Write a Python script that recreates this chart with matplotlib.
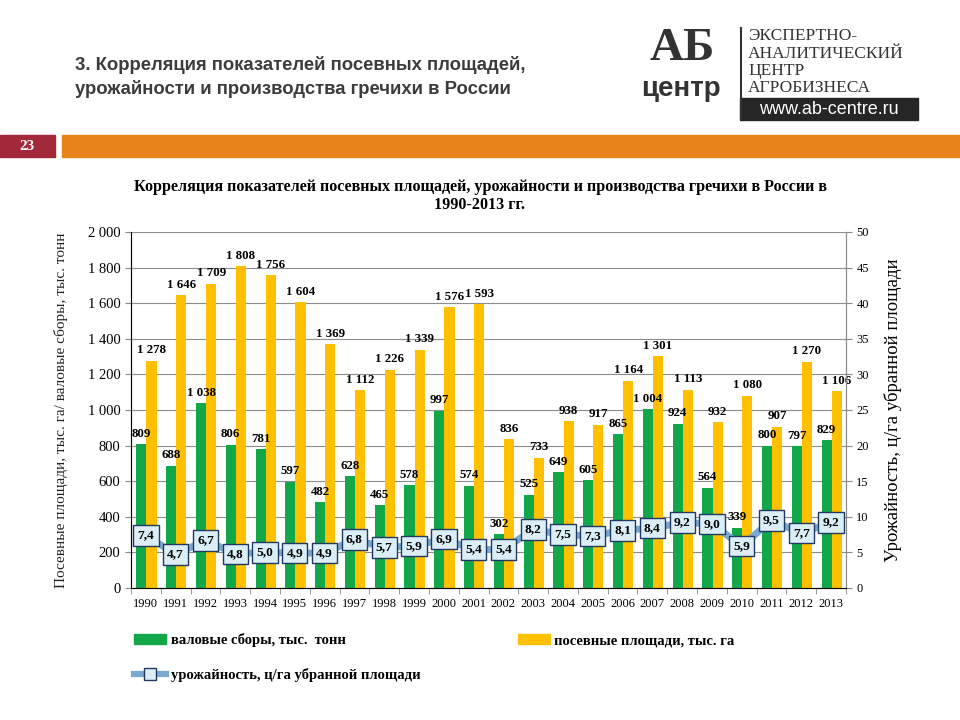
import matplotlib.pyplot as plt
import matplotlib.patches as mpatches
from matplotlib.lines import Line2D
import numpy as np

plt.rcParams['font.family'] = ['Liberation Serif', 'DejaVu Serif']

# Data
years = [str(y) for y in range(1990, 2014)]
harvest = [809, 688, 1038, 806, 781, 597, 482, 628, 465, 578, 997, 574,
           302, 525, 649, 605, 865, 1004, 924, 564, 339, 800, 797, 829]  # тыс. тонн
area = [1278, 1646, 1709, 1808, 1756, 1604, 1369, 1112, 1226, 1339, 1576, 1593,
        836, 733, 938, 917, 1164, 1301, 1113, 932, 1080, 907, 1270, 1106]  # тыс. га
yields = [7.4, 4.7, 6.7, 4.8, 5.0, 4.9, 4.9, 6.8, 5.7, 5.9, 6.9, 5.4,
          5.4, 8.2, 7.5, 7.3, 8.1, 8.4, 9.2, 9.0, 5.9, 9.5, 7.7, 9.2]  # ц/га

green = '#12a84a'
yellow = '#ffc000'
blue_line = '#7aa9cf'
box_fc = '#dbeef6'
box_ec = '#1f3864'


def fmt_thousands(v):
    return f'{v:,}'.replace(',', ' ')


fig = plt.figure(figsize=(9.6, 7.2), dpi=100)

# ---- slide header ----
sans = ['Liberation Sans Narrow', 'Liberation Sans']
fig.text(75 / 960, 1 - 65 / 720, '3. Корреляция показателей посевных площадей,',
         fontsize=13.3, fontweight='bold', color='#3c3c3c', family=sans, va='center')
fig.text(75 / 960, 1 - 89 / 720, 'урожайности и производства гречихи в России',
         fontsize=13.3, fontweight='bold', color='#3c3c3c', family=sans, va='center')

# logo
fig.text(682 / 960, 1 - 49 / 720, 'АБ', fontsize=34, fontweight='bold', color='#333333',
         family=['Liberation Serif'], ha='center', va='center')
fig.text(681 / 960, 1 - 89 / 720, 'центр', fontsize=20, fontweight='bold', color='#333333',
         family=sans, ha='center', va='center')
fig.add_artist(Line2D([741 / 960, 741 / 960], [1 - 28 / 720, 1 - 118 / 720],
                      color='#333333', lw=1.5))
for i, t in enumerate(['ЭКСПЕРТНО-', 'АНАЛИТИЧЕСКИЙ', 'ЦЕНТР', 'АГРОБИЗНЕСА']):
    fig.text(748 / 960, 1 - (36 + 17.5 * i) / 720, t, fontsize=12.5, color='#333333',
             family=['Liberation Serif'], va='center')
fig.add_artist(mpatches.Rectangle((740 / 960, 1 - 120 / 720), 178 / 960, 22 / 720,
                                  transform=fig.transFigure, color='#262626'))
fig.text(829 / 960, 1 - 109 / 720, 'www.ab-centre.ru', fontsize=13, color='white',
         family=sans, ha='center', va='center')

# number box and orange band
fig.add_artist(mpatches.Rectangle((0, 1 - 157 / 720), 55 / 960, 22 / 720,
                                  transform=fig.transFigure, color='#a3283a'))
fig.text(27 / 960, 1 - 146 / 720, '23', fontsize=11, fontweight='bold', color='white',
         ha='center', va='center')
fig.add_artist(mpatches.Rectangle((62 / 960, 1 - 157 / 720), 898 / 960, 22 / 720,
                                  transform=fig.transFigure, color='#e8821a'))

# ---- chart ----
ax = fig.add_axes([131 / 960, 1 - 588 / 720, 715 / 960, 356 / 720])
ax2 = ax.twinx()

fig.text(480 / 960, 1 - 187 / 720,
         'Корреляция показателей посевных площадей, урожайности и производства гречихи в России в',
         fontsize=11.6, fontweight='bold', ha='center', va='center')
fig.text(480 / 960, 1 - 205 / 720, '1990-2013 гг.', fontsize=11.6, fontweight='bold',
         ha='center', va='center')

x = np.arange(len(years))
w = 0.34
ax.bar(x - 0.15, harvest, w, color=green, zorder=2)
ax.bar(x + 0.19, area, w, color=yellow, zorder=2)

for xi, v in zip(x, harvest):
    ax.text(xi - 0.15, v + 25, fmt_thousands(v), ha='center', va='bottom',
            fontsize=9.3, fontweight='bold', zorder=5)
for xi, v in zip(x, area):
    ax.text(xi + 0.19, v + 25, fmt_thousands(v), ha='center', va='bottom',
            fontsize=9.3, fontweight='bold', zorder=5)

ax.set_xlim(-0.5, len(years) - 0.5)
ax.set_ylim(0, 2000)
ax.set_yticks(np.arange(0, 2001, 200))
ax.set_yticklabels([fmt_thousands(v) for v in range(0, 2001, 200)], fontsize=10.5)
ax.set_xticks(x)
ax.set_xticklabels(years, fontsize=9)
ax.set_xticks(np.arange(-0.5, len(years), 1), minor=True)
ax.tick_params(axis='x', which='major', length=0, pad=7)
ax.tick_params(axis='x', which='minor', length=4, color='#888888')
ax.tick_params(axis='y', length=4, color='#888888')
ax.grid(axis='y', color='#8c8c8c', lw=0.8, zorder=0)
ax.spines['top'].set_visible(False)
for s in ['left', 'bottom', 'right']:
    ax.spines[s].set_color('#8c8c8c')
ax.set_ylabel('Посевные площади, тыс. га/ валовые сборы, тыс. тонн', fontsize=11,
              color='#222222', labelpad=14)

ax2.set_ylim(0, 50)
ax2.set_yticks(np.arange(0, 51, 5))
ax2.tick_params(axis='y', labelsize=9, length=4, color='#888888')
ax2.spines['top'].set_visible(False)
ax2.spines['right'].set_color('#8c8c8c')
ax2.set_ylabel('Урожайность, ц/га убранной площади', fontsize=13.5, labelpad=11)

ax2.plot(x, yields, color=blue_line, lw=5, marker='s', markersize=8,
         markerfacecolor=box_fc, markeredgecolor=box_ec, zorder=3)
for xi, v in zip(x, yields):
    ax2.text(xi, v, f'{v:.1f}'.replace('.', ','), ha='center', va='center',
             fontsize=9.6, fontweight='bold', zorder=6,
             bbox=dict(boxstyle='square,pad=0.32', fc=box_fc, ec=box_ec, lw=1))

# legend
handles = [mpatches.Patch(color=green),
           Line2D([], [], color=blue_line, lw=4.5, marker='s', markersize=8,
                  markerfacecolor=box_fc, markeredgecolor=box_ec),
           mpatches.Patch(color=yellow)]
labels = ['валовые сборы, тыс.  тонн', 'урожайность, ц/га убранной площади',
          'посевные площади, тыс. га']
fig.legend(handles, labels, loc='upper left', bbox_to_anchor=(121 / 960, 1 - 620 / 720),
           ncol=2, frameon=False, prop={'weight': 'bold', 'size': 10.5},
           handlelength=2.2, handletextpad=0.3, columnspacing=6.7, labelspacing=1.45)

fig.savefig('out.png', dpi=100)
